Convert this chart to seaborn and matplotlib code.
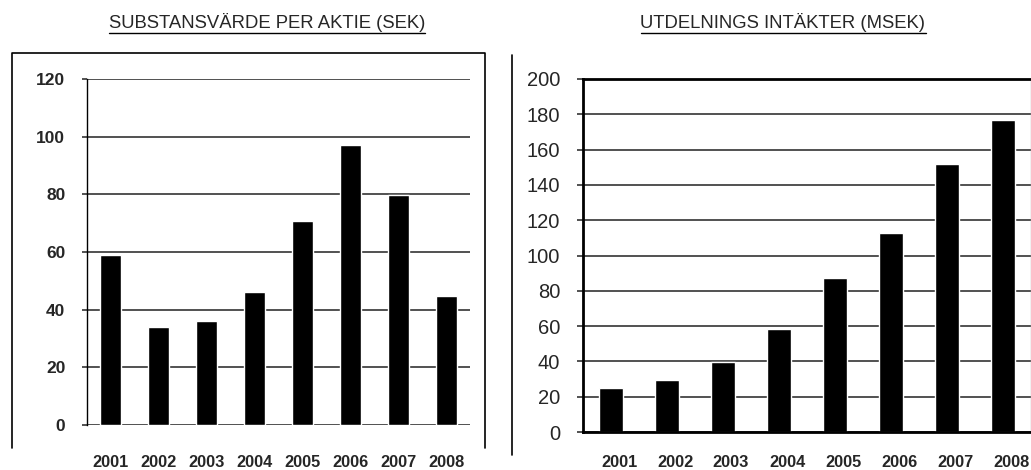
import matplotlib
matplotlib.use("Agg")
import matplotlib.pyplot as plt
import matplotlib.transforms as mtransforms
from matplotlib.lines import Line2D
import pandas as pd
import seaborn as sns

years = ["2001", "2002", "2003", "2004", "2005", "2006", "2007", "2008"]
substansvarde = [58.9, 33.9, 36.2, 46.3, 70.6, 97.2, 79.6, 44.6]
utdelning = [25.2, 29.7, 39.7, 58.1, 87.2, 112.6, 151.9, 176.5]

title_left = "SUBSTANSVÄRDE PER AKTIE (SEK)"
title_right = "UTDELNINGS INTÄKTER (MSEK)"

sns.set_style("white")
plt.rcParams["font.family"] = ["Liberation Sans", "DejaVu Sans"]

W, H = 1031, 470
fig = plt.figure(figsize=(W / 100, H / 100), dpi=100)


def fx(px):
    return px / W


def fy(py):
    # pixel from top -> figure fraction from bottom
    return 1 - py / H


# left chart
ax1 = fig.add_axes([fx(87), fy(425), fx(470 - 87), (425 - 79) / H])
df1 = pd.DataFrame({"year": years, "value": substansvarde})
sns.barplot(data=df1, x="year", y="value", color="black", width=0.44,
            saturation=1, ax=ax1)
ax1.set_ylim(0, 120)
ax1.set_xlim(-0.5, 7.5)
ax1.set_yticks(range(0, 121, 20))
ax1.yaxis.grid(True, color="#222222", linewidth=1.1)
ax1.set_axisbelow(True)
for s in ["top", "right", "bottom"]:
    ax1.spines[s].set_visible(False)
ax1.spines["left"].set_color("black")
ax1.spines["left"].set_linewidth(1.0)
ax1.tick_params(axis="y", left=True, length=3.6, width=1.1, color="#222222",
                labelsize=12.5, pad=12)
ax1.tick_params(axis="x", bottom=False, labelsize=11.8, pad=18)
for lab in ax1.get_yticklabels() + ax1.get_xticklabels():
    lab.set_fontweight("bold")
ax1.set_xlabel("")
ax1.set_ylabel("")

# right chart
ax2 = fig.add_axes([fx(583), fy(432), fx(1031 - 583), (432 - 79) / H])
df2 = pd.DataFrame({"year": years, "value": utdelning})
sns.barplot(data=df2, x="year", y="value", color="black", width=0.43,
            saturation=1, ax=ax2)
ax2.set_ylim(0, 200)
ax2.set_xlim(-0.5, 7.5)
ax2.set_yticks(range(0, 201, 20))
ax2.yaxis.grid(True, color="#222222", linewidth=1.1)
ax2.set_axisbelow(True)
for s in ["left", "top", "bottom"]:
    ax2.spines[s].set_color("black")
    ax2.spines[s].set_linewidth(2.0)
ax2.spines["right"].set_color("#bbbbbb")
ax2.spines["right"].set_linewidth(1.0)
ax2.tick_params(axis="y", left=True, length=4.3, width=1.1, color="#222222",
                labelsize=14.5, pad=12)
ax2.tick_params(axis="x", bottom=False, labelsize=11.8, pad=13)
shift = mtransforms.ScaledTranslation(8 / 100, 0, fig.dpi_scale_trans)
for lab in ax2.get_xticklabels():
    lab.set_fontweight("bold")
    lab.set_transform(lab.get_transform() + shift)
ax2.set_xlabel("")
ax2.set_ylabel("")

# outer frames
fig.add_artist(Line2D([fx(12), fx(12), fx(485), fx(485)],
                      [fy(448), fy(53), fy(53), fy(448)],
                      color="black", linewidth=1.2))
fig.add_artist(Line2D([fx(512), fx(512)], [fy(455), fy(55)],
                      color="black", linewidth=1.2))

# underlined titles
titles = []
for txt, cx in [(title_left, 267), (title_right, 783)]:
    t = fig.text(fx(cx), fy(22), txt, ha="center", va="center", fontsize=13.3)
    titles.append(t)
fig.canvas.draw()
r = fig.canvas.get_renderer()
for t in titles:
    bb = t.get_window_extent(r)
    y = bb.y0 - 1
    fig.add_artist(Line2D([bb.x0 / W, bb.x1 / W], [y / H, y / H],
                          color="black", linewidth=1.0))

fig.savefig("out.png", dpi=100)
